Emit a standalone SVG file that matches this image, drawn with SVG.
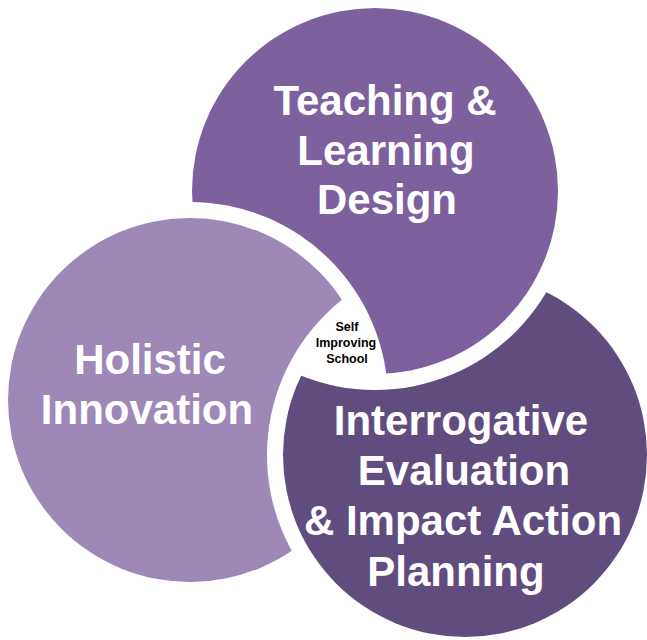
<svg xmlns="http://www.w3.org/2000/svg" width="647" height="640" viewBox="0 0 647 640">
  <style>
    .big { font-family: "Liberation Sans", Arial, sans-serif; font-weight: bold; font-size: 42px; fill: #ffffff; text-anchor: middle; }
    .small { font-family: "Liberation Sans", Arial, sans-serif; font-weight: bold; font-size: 12.5px; fill: #000000; text-anchor: middle; }
  </style>
  <defs>
    <mask id="cutByL" maskUnits="userSpaceOnUse" x="0" y="0" width="647" height="640">
      <rect x="0" y="0" width="647" height="640" fill="#fff"/>
      <circle cx="190" cy="400" r="198" fill="#000"/>
    </mask>
    <mask id="cutByD" maskUnits="userSpaceOnUse" x="0" y="0" width="647" height="640">
      <rect x="0" y="0" width="647" height="640" fill="#fff"/>
      <circle cx="465" cy="455" r="198" fill="#000"/>
    </mask>
    <mask id="cutByT" maskUnits="userSpaceOnUse" x="0" y="0" width="647" height="640">
      <rect x="0" y="0" width="647" height="640" fill="#fff"/>
      <circle cx="375" cy="191" r="199" fill="#000"/>
    </mask>
  </defs>
  <rect x="0" y="0" width="647" height="640" fill="#ffffff"/>
  <g id="teaching-learning-design">
    <circle cx="375" cy="191" r="183" fill="#7c619e" mask="url(#cutByL)"/>
    <text class="big" x="385" y="115">Teaching &amp;</text>
    <text class="big" x="386" y="165">Learning</text>
    <text class="big" x="387" y="214">Design</text>
  </g>
  <g id="holistic-innovation">
    <circle cx="190" cy="400" r="182" fill="#9d88b8" mask="url(#cutByD)"/>
    <text class="big" x="150" y="374">Holistic</text>
    <text class="big" x="147" y="424">Innovation</text>
  </g>
  <g id="interrogative-evaluation">
    <circle cx="465" cy="455" r="182" fill="#614c7f" mask="url(#cutByT)"/>
    <text class="big" x="461" y="435">Interrogative</text>
    <text class="big" x="464" y="485">Evaluation</text>
    <text class="big" x="463" y="535">&amp; Impact Action</text>
    <text class="big" x="456" y="586">Planning</text>
  </g>
  <g id="self-improving-school">
    <text class="small" x="347" y="331">Self</text>
    <text class="small" x="346" y="347">Improving</text>
    <text class="small" x="347" y="363">School</text>
  </g>
  <g id="connectors"/>
</svg>
